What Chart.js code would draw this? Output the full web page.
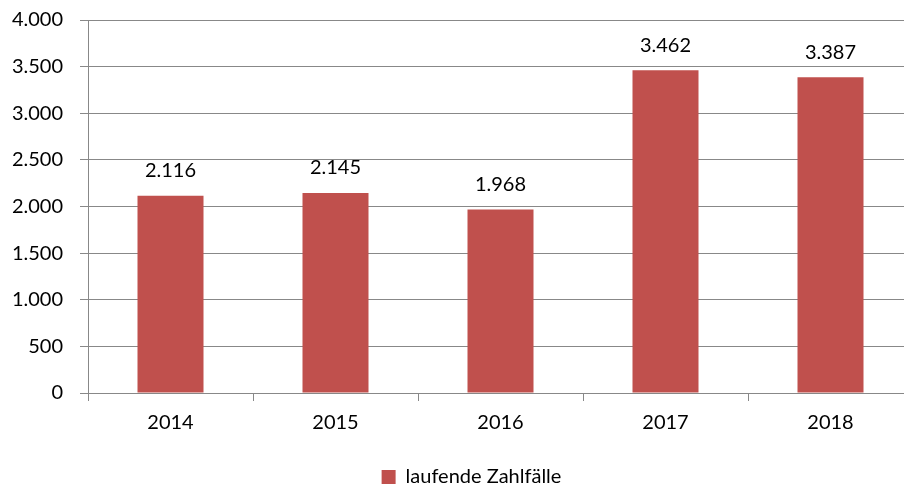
<!DOCTYPE html>
<html>
<head>
<meta charset="utf-8">
<script src="https://cdn.jsdelivr.net/npm/chart.js@4/dist/chart.umd.min.js"></script>
<style>
  html, body { margin: 0; padding: 0; background: #fff; overflow: hidden; }
  #wrap { position: absolute; left: 0; top: 0; width: 943px; height: 499px; }
</style>
</head>
<body>
<div id="wrap"><canvas id="myBarChart" width="943" height="499"></canvas></div>
<script>
const years = ["2014", "2015", "2016", "2017", "2018"];
const zahlfaelle = [2116, 2145, 1968, 3462, 3387];
const seriesName = "laufende Zahlfälle";
const yTicks = [0, 500, 1000, 1500, 2000, 2500, 3000, 3500, 4000];

const barColor = "#C0504D";
const gridColor = "#888888";
const fontFamily = "Lato, 'Open Sans', sans-serif";

// German thousands separator
function fmt(v) {
  return String(v).replace(/\B(?=(\d{3})+(?!\d))/g, ".");
}

// value labels above the bars
const valueLabels = {
  id: "valueLabels",
  afterDatasetsDraw(chart) {
    const ctx = chart.ctx;
    ctx.save();
    ctx.font = "20px " + fontFamily;
    ctx.fillStyle = "#000";
    ctx.textAlign = "center";
    ctx.textBaseline = "middle";
    chart.getDatasetMeta(0).data.forEach((bar, i) => {
      ctx.fillText(fmt(chart.data.datasets[0].data[i]), bar.x, bar.y - 25);
    });
    ctx.restore();
  }
};

// nudge the legend a bit to the right, like the original
const legendShift = {
  id: "legendShift",
  afterLayout(chart) {
    if (chart.legend) {
      chart.legend.left += 15;
      chart.legend.right += 15;
    }
  }
};

function createBarChart() {
  const ctx = document.getElementById("myBarChart").getContext("2d");
  new Chart(ctx, {
    type: "bar",
    data: {
      labels: years,
      datasets: [{
        label: seriesName,
        data: zahlfaelle,
        backgroundColor: barColor,
        borderWidth: 0,
        barPercentage: 0.4,
        categoryPercentage: 1.0,
      }],
    },
    options: {
      responsive: false,
      animation: false,
      layout: { padding: { top: 20, right: 30, bottom: 2, left: 0 } },
      plugins: {
        tooltip: { enabled: false },
        legend: {
          position: "bottom",
          labels: {
            boxWidth: 14,
            boxHeight: 14,
            color: "#000",
            font: { size: 20, family: fontFamily },
            padding: 10,
          },
        },
      },
      scales: {
        x: {
          grid: {
            offset: true,
            drawOnChartArea: false,
            drawTicks: true,
            tickLength: 8,
            color: gridColor,
          },
          border: { color: gridColor, width: 1 },
          ticks: {
            color: "#000",
            font: { size: 20, family: fontFamily },
            padding: 10,
          },
          afterFit(scale) { scale.height = 64; },
        },
        y: {
          min: 0,
          max: 4000,
          afterBuildTicks(scale) { scale.ticks = yTicks.map((v) => ({ value: v })); },
          grid: { color: gridColor, lineWidth: 1, tickLength: 8 },
          border: { color: gridColor, width: 1 },
          ticks: {
            color: "#000",
            font: { size: 20, family: fontFamily },
            padding: 17,
            callback: (v) => fmt(v),
          },
          afterFit(scale) {
            scale.width = 88;
            scale.paddingTop = 0;
            scale.paddingBottom = 0;
          },
        },
      },
    },
    plugins: [valueLabels, legendShift],
  });
}

createBarChart();
</script>
</body>
</html>
